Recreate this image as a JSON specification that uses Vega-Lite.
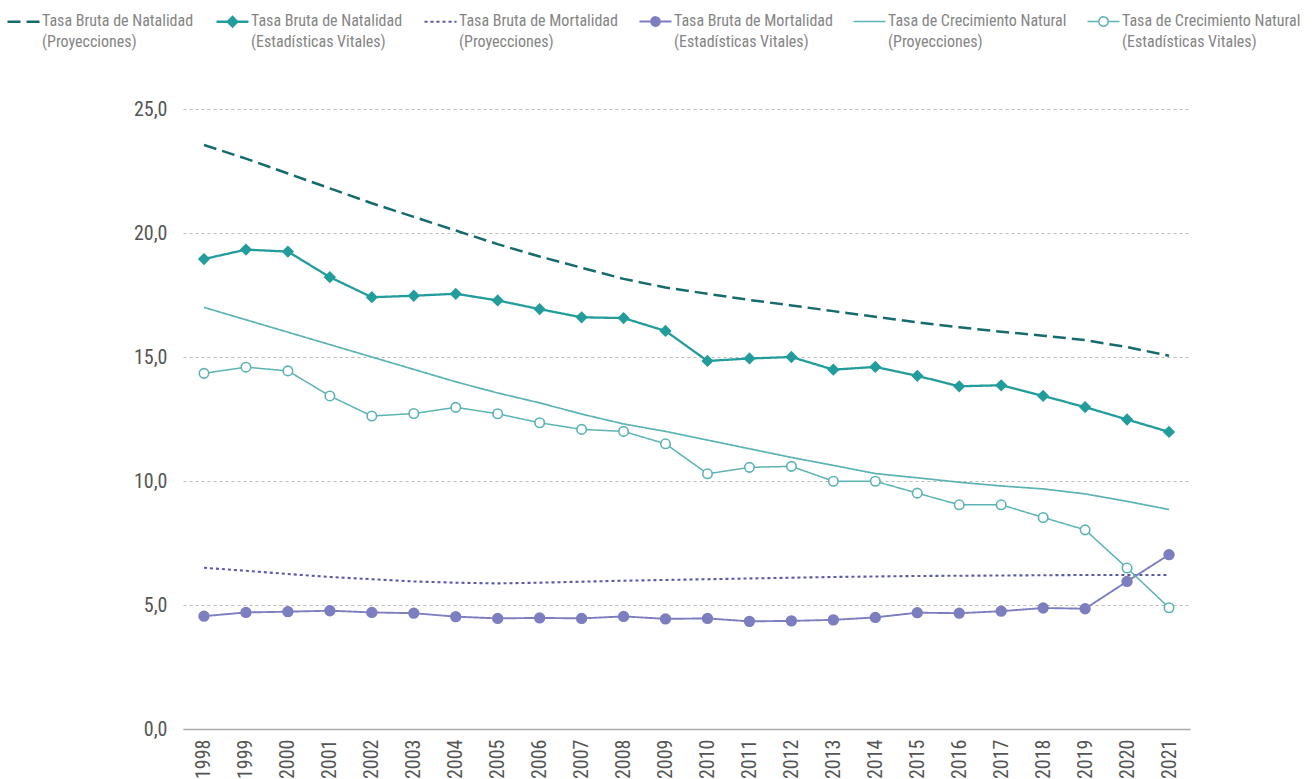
{
  "$schema": "https://vega.github.io/schema/vega-lite/v6.json",
  "width": 1007,
  "height": 620,
  "autosize": "none",
  "padding": {"left": 183, "top": 109, "right": 125, "bottom": 50},
  "config": {
    "view": {"stroke": null},
    "font": "Roboto Condensed, Liberation Sans Narrow, DejaVu Sans Condensed, Roboto, sans-serif"
  },
  "datasets": {
    "tasas": [
      {"year": "1998", "serie": "Tasa Bruta de Natalidad (Proyecciones)", "value": 23.55},
      {"year": "1999", "serie": "Tasa Bruta de Natalidad (Proyecciones)", "value": 23.0},
      {"year": "2000", "serie": "Tasa Bruta de Natalidad (Proyecciones)", "value": 22.4},
      {"year": "2001", "serie": "Tasa Bruta de Natalidad (Proyecciones)", "value": 21.8},
      {"year": "2002", "serie": "Tasa Bruta de Natalidad (Proyecciones)", "value": 21.2},
      {"year": "2003", "serie": "Tasa Bruta de Natalidad (Proyecciones)", "value": 20.65},
      {"year": "2004", "serie": "Tasa Bruta de Natalidad (Proyecciones)", "value": 20.1},
      {"year": "2005", "serie": "Tasa Bruta de Natalidad (Proyecciones)", "value": 19.55},
      {"year": "2006", "serie": "Tasa Bruta de Natalidad (Proyecciones)", "value": 19.05},
      {"year": "2007", "serie": "Tasa Bruta de Natalidad (Proyecciones)", "value": 18.6},
      {"year": "2008", "serie": "Tasa Bruta de Natalidad (Proyecciones)", "value": 18.15},
      {"year": "2009", "serie": "Tasa Bruta de Natalidad (Proyecciones)", "value": 17.8},
      {"year": "2010", "serie": "Tasa Bruta de Natalidad (Proyecciones)", "value": 17.55},
      {"year": "2011", "serie": "Tasa Bruta de Natalidad (Proyecciones)", "value": 17.3},
      {"year": "2012", "serie": "Tasa Bruta de Natalidad (Proyecciones)", "value": 17.08},
      {"year": "2013", "serie": "Tasa Bruta de Natalidad (Proyecciones)", "value": 16.85},
      {"year": "2014", "serie": "Tasa Bruta de Natalidad (Proyecciones)", "value": 16.62},
      {"year": "2015", "serie": "Tasa Bruta de Natalidad (Proyecciones)", "value": 16.4},
      {"year": "2016", "serie": "Tasa Bruta de Natalidad (Proyecciones)", "value": 16.2},
      {"year": "2017", "serie": "Tasa Bruta de Natalidad (Proyecciones)", "value": 16.02},
      {"year": "2018", "serie": "Tasa Bruta de Natalidad (Proyecciones)", "value": 15.86},
      {"year": "2019", "serie": "Tasa Bruta de Natalidad (Proyecciones)", "value": 15.68},
      {"year": "2020", "serie": "Tasa Bruta de Natalidad (Proyecciones)", "value": 15.4},
      {"year": "2021", "serie": "Tasa Bruta de Natalidad (Proyecciones)", "value": 15.05},

      {"year": "1998", "serie": "Tasa Bruta de Natalidad (Estadísticas Vitales)", "value": 18.95},
      {"year": "1999", "serie": "Tasa Bruta de Natalidad (Estadísticas Vitales)", "value": 19.33},
      {"year": "2000", "serie": "Tasa Bruta de Natalidad (Estadísticas Vitales)", "value": 19.25},
      {"year": "2001", "serie": "Tasa Bruta de Natalidad (Estadísticas Vitales)", "value": 18.22},
      {"year": "2002", "serie": "Tasa Bruta de Natalidad (Estadísticas Vitales)", "value": 17.41},
      {"year": "2003", "serie": "Tasa Bruta de Natalidad (Estadísticas Vitales)", "value": 17.47},
      {"year": "2004", "serie": "Tasa Bruta de Natalidad (Estadísticas Vitales)", "value": 17.55},
      {"year": "2005", "serie": "Tasa Bruta de Natalidad (Estadísticas Vitales)", "value": 17.28},
      {"year": "2006", "serie": "Tasa Bruta de Natalidad (Estadísticas Vitales)", "value": 16.93},
      {"year": "2007", "serie": "Tasa Bruta de Natalidad (Estadísticas Vitales)", "value": 16.6},
      {"year": "2008", "serie": "Tasa Bruta de Natalidad (Estadísticas Vitales)", "value": 16.57},
      {"year": "2009", "serie": "Tasa Bruta de Natalidad (Estadísticas Vitales)", "value": 16.05},
      {"year": "2010", "serie": "Tasa Bruta de Natalidad (Estadísticas Vitales)", "value": 14.84},
      {"year": "2011", "serie": "Tasa Bruta de Natalidad (Estadísticas Vitales)", "value": 14.94},
      {"year": "2012", "serie": "Tasa Bruta de Natalidad (Estadísticas Vitales)", "value": 15.0},
      {"year": "2013", "serie": "Tasa Bruta de Natalidad (Estadísticas Vitales)", "value": 14.49},
      {"year": "2014", "serie": "Tasa Bruta de Natalidad (Estadísticas Vitales)", "value": 14.6},
      {"year": "2015", "serie": "Tasa Bruta de Natalidad (Estadísticas Vitales)", "value": 14.24},
      {"year": "2016", "serie": "Tasa Bruta de Natalidad (Estadísticas Vitales)", "value": 13.82},
      {"year": "2017", "serie": "Tasa Bruta de Natalidad (Estadísticas Vitales)", "value": 13.86},
      {"year": "2018", "serie": "Tasa Bruta de Natalidad (Estadísticas Vitales)", "value": 13.43},
      {"year": "2019", "serie": "Tasa Bruta de Natalidad (Estadísticas Vitales)", "value": 12.98},
      {"year": "2020", "serie": "Tasa Bruta de Natalidad (Estadísticas Vitales)", "value": 12.48},
      {"year": "2021", "serie": "Tasa Bruta de Natalidad (Estadísticas Vitales)", "value": 11.98},

      {"year": "1998", "serie": "Tasa Bruta de Mortalidad (Proyecciones)", "value": 6.5},
      {"year": "1999", "serie": "Tasa Bruta de Mortalidad (Proyecciones)", "value": 6.38},
      {"year": "2000", "serie": "Tasa Bruta de Mortalidad (Proyecciones)", "value": 6.25},
      {"year": "2001", "serie": "Tasa Bruta de Mortalidad (Proyecciones)", "value": 6.13},
      {"year": "2002", "serie": "Tasa Bruta de Mortalidad (Proyecciones)", "value": 6.04},
      {"year": "2003", "serie": "Tasa Bruta de Mortalidad (Proyecciones)", "value": 5.95},
      {"year": "2004", "serie": "Tasa Bruta de Mortalidad (Proyecciones)", "value": 5.9},
      {"year": "2005", "serie": "Tasa Bruta de Mortalidad (Proyecciones)", "value": 5.87},
      {"year": "2006", "serie": "Tasa Bruta de Mortalidad (Proyecciones)", "value": 5.9},
      {"year": "2007", "serie": "Tasa Bruta de Mortalidad (Proyecciones)", "value": 5.94},
      {"year": "2008", "serie": "Tasa Bruta de Mortalidad (Proyecciones)", "value": 5.98},
      {"year": "2009", "serie": "Tasa Bruta de Mortalidad (Proyecciones)", "value": 6.01},
      {"year": "2010", "serie": "Tasa Bruta de Mortalidad (Proyecciones)", "value": 6.04},
      {"year": "2011", "serie": "Tasa Bruta de Mortalidad (Proyecciones)", "value": 6.07},
      {"year": "2012", "serie": "Tasa Bruta de Mortalidad (Proyecciones)", "value": 6.1},
      {"year": "2013", "serie": "Tasa Bruta de Mortalidad (Proyecciones)", "value": 6.13},
      {"year": "2014", "serie": "Tasa Bruta de Mortalidad (Proyecciones)", "value": 6.15},
      {"year": "2015", "serie": "Tasa Bruta de Mortalidad (Proyecciones)", "value": 6.17},
      {"year": "2016", "serie": "Tasa Bruta de Mortalidad (Proyecciones)", "value": 6.18},
      {"year": "2017", "serie": "Tasa Bruta de Mortalidad (Proyecciones)", "value": 6.19},
      {"year": "2018", "serie": "Tasa Bruta de Mortalidad (Proyecciones)", "value": 6.2},
      {"year": "2019", "serie": "Tasa Bruta de Mortalidad (Proyecciones)", "value": 6.21},
      {"year": "2020", "serie": "Tasa Bruta de Mortalidad (Proyecciones)", "value": 6.21},
      {"year": "2021", "serie": "Tasa Bruta de Mortalidad (Proyecciones)", "value": 6.21},

      {"year": "1998", "serie": "Tasa Bruta de Mortalidad (Estadísticas Vitales)", "value": 4.55},
      {"year": "1999", "serie": "Tasa Bruta de Mortalidad (Estadísticas Vitales)", "value": 4.7},
      {"year": "2000", "serie": "Tasa Bruta de Mortalidad (Estadísticas Vitales)", "value": 4.73},
      {"year": "2001", "serie": "Tasa Bruta de Mortalidad (Estadísticas Vitales)", "value": 4.77},
      {"year": "2002", "serie": "Tasa Bruta de Mortalidad (Estadísticas Vitales)", "value": 4.7},
      {"year": "2003", "serie": "Tasa Bruta de Mortalidad (Estadísticas Vitales)", "value": 4.67},
      {"year": "2004", "serie": "Tasa Bruta de Mortalidad (Estadísticas Vitales)", "value": 4.53},
      {"year": "2005", "serie": "Tasa Bruta de Mortalidad (Estadísticas Vitales)", "value": 4.46},
      {"year": "2006", "serie": "Tasa Bruta de Mortalidad (Estadísticas Vitales)", "value": 4.48},
      {"year": "2007", "serie": "Tasa Bruta de Mortalidad (Estadísticas Vitales)", "value": 4.46},
      {"year": "2008", "serie": "Tasa Bruta de Mortalidad (Estadísticas Vitales)", "value": 4.54},
      {"year": "2009", "serie": "Tasa Bruta de Mortalidad (Estadísticas Vitales)", "value": 4.44},
      {"year": "2010", "serie": "Tasa Bruta de Mortalidad (Estadísticas Vitales)", "value": 4.46},
      {"year": "2011", "serie": "Tasa Bruta de Mortalidad (Estadísticas Vitales)", "value": 4.34},
      {"year": "2012", "serie": "Tasa Bruta de Mortalidad (Estadísticas Vitales)", "value": 4.36},
      {"year": "2013", "serie": "Tasa Bruta de Mortalidad (Estadísticas Vitales)", "value": 4.4},
      {"year": "2014", "serie": "Tasa Bruta de Mortalidad (Estadísticas Vitales)", "value": 4.5},
      {"year": "2015", "serie": "Tasa Bruta de Mortalidad (Estadísticas Vitales)", "value": 4.69},
      {"year": "2016", "serie": "Tasa Bruta de Mortalidad (Estadísticas Vitales)", "value": 4.67},
      {"year": "2017", "serie": "Tasa Bruta de Mortalidad (Estadísticas Vitales)", "value": 4.75},
      {"year": "2018", "serie": "Tasa Bruta de Mortalidad (Estadísticas Vitales)", "value": 4.88},
      {"year": "2019", "serie": "Tasa Bruta de Mortalidad (Estadísticas Vitales)", "value": 4.85},
      {"year": "2020", "serie": "Tasa Bruta de Mortalidad (Estadísticas Vitales)", "value": 5.95},
      {"year": "2021", "serie": "Tasa Bruta de Mortalidad (Estadísticas Vitales)", "value": 7.03},

      {"year": "1998", "serie": "Tasa de Crecimiento Natural (Proyecciones)", "value": 17.0},
      {"year": "1999", "serie": "Tasa de Crecimiento Natural (Proyecciones)", "value": 16.5},
      {"year": "2000", "serie": "Tasa de Crecimiento Natural (Proyecciones)", "value": 16.0},
      {"year": "2001", "serie": "Tasa de Crecimiento Natural (Proyecciones)", "value": 15.5},
      {"year": "2002", "serie": "Tasa de Crecimiento Natural (Proyecciones)", "value": 15.0},
      {"year": "2003", "serie": "Tasa de Crecimiento Natural (Proyecciones)", "value": 14.5},
      {"year": "2004", "serie": "Tasa de Crecimiento Natural (Proyecciones)", "value": 14.0},
      {"year": "2005", "serie": "Tasa de Crecimiento Natural (Proyecciones)", "value": 13.55},
      {"year": "2006", "serie": "Tasa de Crecimiento Natural (Proyecciones)", "value": 13.15},
      {"year": "2007", "serie": "Tasa de Crecimiento Natural (Proyecciones)", "value": 12.7},
      {"year": "2008", "serie": "Tasa de Crecimiento Natural (Proyecciones)", "value": 12.3},
      {"year": "2009", "serie": "Tasa de Crecimiento Natural (Proyecciones)", "value": 12.0},
      {"year": "2010", "serie": "Tasa de Crecimiento Natural (Proyecciones)", "value": 11.65},
      {"year": "2011", "serie": "Tasa de Crecimiento Natural (Proyecciones)", "value": 11.3},
      {"year": "2012", "serie": "Tasa de Crecimiento Natural (Proyecciones)", "value": 10.95},
      {"year": "2013", "serie": "Tasa de Crecimiento Natural (Proyecciones)", "value": 10.63},
      {"year": "2014", "serie": "Tasa de Crecimiento Natural (Proyecciones)", "value": 10.3},
      {"year": "2015", "serie": "Tasa de Crecimiento Natural (Proyecciones)", "value": 10.13},
      {"year": "2016", "serie": "Tasa de Crecimiento Natural (Proyecciones)", "value": 9.95},
      {"year": "2017", "serie": "Tasa de Crecimiento Natural (Proyecciones)", "value": 9.8},
      {"year": "2018", "serie": "Tasa de Crecimiento Natural (Proyecciones)", "value": 9.68},
      {"year": "2019", "serie": "Tasa de Crecimiento Natural (Proyecciones)", "value": 9.48},
      {"year": "2020", "serie": "Tasa de Crecimiento Natural (Proyecciones)", "value": 9.18},
      {"year": "2021", "serie": "Tasa de Crecimiento Natural (Proyecciones)", "value": 8.85},

      {"year": "1998", "serie": "Tasa de Crecimiento Natural (Estadísticas Vitales)", "value": 14.34},
      {"year": "1999", "serie": "Tasa de Crecimiento Natural (Estadísticas Vitales)", "value": 14.59},
      {"year": "2000", "serie": "Tasa de Crecimiento Natural (Estadísticas Vitales)", "value": 14.44},
      {"year": "2001", "serie": "Tasa de Crecimiento Natural (Estadísticas Vitales)", "value": 13.43},
      {"year": "2002", "serie": "Tasa de Crecimiento Natural (Estadísticas Vitales)", "value": 12.62},
      {"year": "2003", "serie": "Tasa de Crecimiento Natural (Estadísticas Vitales)", "value": 12.72},
      {"year": "2004", "serie": "Tasa de Crecimiento Natural (Estadísticas Vitales)", "value": 12.97},
      {"year": "2005", "serie": "Tasa de Crecimiento Natural (Estadísticas Vitales)", "value": 12.71},
      {"year": "2006", "serie": "Tasa de Crecimiento Natural (Estadísticas Vitales)", "value": 12.35},
      {"year": "2007", "serie": "Tasa de Crecimiento Natural (Estadísticas Vitales)", "value": 12.08},
      {"year": "2008", "serie": "Tasa de Crecimiento Natural (Estadísticas Vitales)", "value": 12.0},
      {"year": "2009", "serie": "Tasa de Crecimiento Natural (Estadísticas Vitales)", "value": 11.5},
      {"year": "2010", "serie": "Tasa de Crecimiento Natural (Estadísticas Vitales)", "value": 10.29},
      {"year": "2011", "serie": "Tasa de Crecimiento Natural (Estadísticas Vitales)", "value": 10.55},
      {"year": "2012", "serie": "Tasa de Crecimiento Natural (Estadísticas Vitales)", "value": 10.59},
      {"year": "2013", "serie": "Tasa de Crecimiento Natural (Estadísticas Vitales)", "value": 9.99},
      {"year": "2014", "serie": "Tasa de Crecimiento Natural (Estadísticas Vitales)", "value": 9.99},
      {"year": "2015", "serie": "Tasa de Crecimiento Natural (Estadísticas Vitales)", "value": 9.51},
      {"year": "2016", "serie": "Tasa de Crecimiento Natural (Estadísticas Vitales)", "value": 9.04},
      {"year": "2017", "serie": "Tasa de Crecimiento Natural (Estadísticas Vitales)", "value": 9.04},
      {"year": "2018", "serie": "Tasa de Crecimiento Natural (Estadísticas Vitales)", "value": 8.53},
      {"year": "2019", "serie": "Tasa de Crecimiento Natural (Estadísticas Vitales)", "value": 8.03},
      {"year": "2020", "serie": "Tasa de Crecimiento Natural (Estadísticas Vitales)", "value": 6.49},
      {"year": "2021", "serie": "Tasa de Crecimiento Natural (Estadísticas Vitales)", "value": 4.89}
    ]
  },
  "data": {"name": "tasas"},
  "encoding": {
    "x": {
      "field": "year",
      "type": "ordinal",
      "scale": {"type": "point", "padding": 0.5},
      "axis": {
        "title": null,
        "labelAngle": -90,
        "labelFontSize": 20,
        "labelColor": "#555555",
        "labelPadding": 10,
        "ticks": false,
        "domainColor": "#aaaaaa",
        "domainWidth": 1.5,
        "grid": false
      }
    },
    "y": {
      "field": "value",
      "type": "quantitative",
      "scale": {"domain": [0, 25], "nice": false},
      "axis": {
        "title": null,
        "values": [0, 5, 10, 15, 20, 25],
        "labelExpr": "replace(format(datum.value, '.1f'), '.', ',')",
        "labelFontSize": 20,
        "labelColor": "#555555",
        "labelPadding": 16,
        "ticks": false,
        "domain": false,
        "grid": true,
        "gridColor": "#bbbbbb",
        "gridDash": [3, 3],
        "gridWidth": 1
      }
    }
  },
  "layer": [
    {
      "mark": {"type": "line"},
      "encoding": {
        "color": {
          "field": "serie",
          "type": "nominal",
          "sort": null,
          "scale": {
            "domain": [
              "Tasa Bruta de Natalidad (Proyecciones)",
              "Tasa Bruta de Natalidad (Estadísticas Vitales)",
              "Tasa Bruta de Mortalidad (Proyecciones)",
              "Tasa Bruta de Mortalidad (Estadísticas Vitales)",
              "Tasa de Crecimiento Natural (Proyecciones)",
              "Tasa de Crecimiento Natural (Estadísticas Vitales)"
            ],
            "range": ["#166b6d", "#239c9c", "#5a5aaa", "#7c7ebf", "#5bb3b3", "#5bb3b3"]
          },
          "legend": {
            "title": null,
            "orient": "none",
            "legendX": -177,
            "legendY": -105,
            "direction": "horizontal",
            "columns": 6,
            "columnPadding": 17,
            "symbolSize": 1024,
            "symbolStrokeWidth": 2,
            "labelOffset": 1,
            "labelFontSize": 16,
            "labelColor": "#858585",
            "labelBaseline": "top",
            "labelLimit": 300,
            "labelExpr": "[slice(datum.label, 0, indexof(datum.label, ' (')), slice(datum.label, indexof(datum.label, ' (') + 1)]",
            "encode": {
              "labels": {"update": {"lineHeight": {"value": 21}, "dy": {"value": -9}}},
              "symbols": {
                "update": {
                  "shape": {"signal": "datum.value === 'Tasa Bruta de Natalidad (Estadísticas Vitales)' ? 'M-1,0H1M0,-0.3L0.3,0L0,0.3L-0.3,0Z' : datum.value === 'Tasa Bruta de Mortalidad (Estadísticas Vitales)' ? 'M-1,0H1M0.28,0L0.2425,0.14L0.14,0.2425L0,0.28L-0.14,0.2425L-0.2425,0.14L-0.28,0L-0.2425,-0.14L-0.14,-0.2425L0,-0.28L0.14,-0.2425L0.2425,-0.14Z' : datum.value === 'Tasa de Crecimiento Natural (Estadísticas Vitales)' ? 'M-1,0H-0.3M0.3,0H1M0.3,0L0.26,0.15L0.15,0.26L0,0.3L-0.15,0.26L-0.26,0.15L-0.3,0L-0.26,-0.15L-0.15,-0.26L0,-0.3L0.15,-0.26L0.26,-0.15Z' : 'M-1,0H1'"},
                  "fill": {"signal": "datum.value === 'Tasa Bruta de Natalidad (Estadísticas Vitales)' ? '#239c9c' : datum.value === 'Tasa Bruta de Mortalidad (Estadísticas Vitales)' ? '#7c7ebf' : datum.value === 'Tasa de Crecimiento Natural (Estadísticas Vitales)' ? '#ffffff' : 'transparent'"},
                  "strokeDash": {"signal": "datum.value === 'Tasa Bruta de Natalidad (Proyecciones)' ? [13, 5] : datum.value === 'Tasa Bruta de Mortalidad (Proyecciones)' ? [3, 2.5] : [1, 0]"},
                  "strokeWidth": {"value": 2},
                  "opacity": {"value": 1}
                }
              }
            }
          }
        },
        "strokeDash": {
          "field": "serie",
          "type": "nominal",
          "sort": null,
          "scale": {
            "domain": [
              "Tasa Bruta de Natalidad (Proyecciones)",
              "Tasa Bruta de Natalidad (Estadísticas Vitales)",
              "Tasa Bruta de Mortalidad (Proyecciones)",
              "Tasa Bruta de Mortalidad (Estadísticas Vitales)",
              "Tasa de Crecimiento Natural (Proyecciones)",
              "Tasa de Crecimiento Natural (Estadísticas Vitales)"
            ],
            "range": [[13, 6], [1, 0], [3, 3], [1, 0], [1, 0], [1, 0]]
          },
          "legend": null
        },
        "strokeWidth": {
          "field": "serie",
          "type": "nominal",
          "sort": null,
          "scale": {
            "domain": [
              "Tasa Bruta de Natalidad (Proyecciones)",
              "Tasa Bruta de Natalidad (Estadísticas Vitales)",
              "Tasa Bruta de Mortalidad (Proyecciones)",
              "Tasa Bruta de Mortalidad (Estadísticas Vitales)",
              "Tasa de Crecimiento Natural (Proyecciones)",
              "Tasa de Crecimiento Natural (Estadísticas Vitales)"
            ],
            "range": [2.5, 1.5, 2.5, 2, 2.2, 2]
          },
          "legend": null
        }
      }
    },
    {
      "transform": [
        {"filter": {"field": "serie", "oneOf": [
          "Tasa Bruta de Natalidad (Estadísticas Vitales)",
          "Tasa Bruta de Mortalidad (Estadísticas Vitales)",
          "Tasa de Crecimiento Natural (Estadísticas Vitales)"
        ]}}
      ],
      "mark": {"type": "point", "opacity": 1, "strokeWidth": 1.6},
      "encoding": {
        "shape": {
          "field": "serie",
          "type": "nominal",
          "scale": {
            "domain": [
              "Tasa Bruta de Natalidad (Estadísticas Vitales)",
              "Tasa Bruta de Mortalidad (Estadísticas Vitales)",
              "Tasa de Crecimiento Natural (Estadísticas Vitales)"
            ],
            "range": ["diamond", "circle", "circle"]
          },
          "legend": null
        },
        "size": {
          "field": "serie",
          "type": "nominal",
          "scale": {
            "domain": [
              "Tasa Bruta de Natalidad (Estadísticas Vitales)",
              "Tasa Bruta de Mortalidad (Estadísticas Vitales)",
              "Tasa de Crecimiento Natural (Estadísticas Vitales)"
            ],
            "range": [100, 90, 170]
          },
          "legend": null
        },
        "fill": {
          "field": "serie",
          "type": "nominal",
          "scale": {
            "domain": [
              "Tasa Bruta de Natalidad (Estadísticas Vitales)",
              "Tasa Bruta de Mortalidad (Estadísticas Vitales)",
              "Tasa de Crecimiento Natural (Estadísticas Vitales)"
            ],
            "range": ["#239c9c", "#7c7ebf", "#ffffff"]
          },
          "legend": null
        },
        "stroke": {
          "field": "serie",
          "type": "nominal",
          "scale": {
            "domain": [
              "Tasa Bruta de Natalidad (Estadísticas Vitales)",
              "Tasa Bruta de Mortalidad (Estadísticas Vitales)",
              "Tasa de Crecimiento Natural (Estadísticas Vitales)"
            ],
            "range": ["#239c9c", "#7c7ebf", "#5bb3b3"]
          },
          "legend": null
        }
      }
    }
  ]
}
